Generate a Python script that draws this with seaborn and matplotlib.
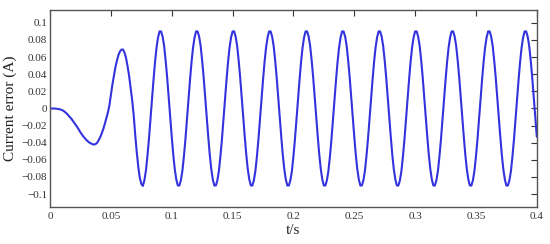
import numpy as np
import pandas as pd
import matplotlib
matplotlib.use("Agg")
import matplotlib.pyplot as plt
import seaborn as sns

# time step of the readings (s)
dt = 0.00125

# transient part, t = 0 ... 0.07625
transient = [0, 0, 0, -0.0001, -0.0002, -0.0005, -0.0008, -0.0013,
             -0.002, -0.003, -0.0045, -0.006, -0.008, -0.010, -0.012, -0.0145,
             -0.017, -0.0195, -0.022, -0.025, -0.028, -0.0305, -0.033, -0.035,
             -0.037, -0.0387, -0.040, -0.041, -0.0418, -0.0422, -0.0415, -0.040,
             -0.037, -0.0335, -0.029, -0.024, -0.018, -0.0115, -0.005, 0.0035,
             0.0157, 0.028, 0.038, 0.0485, 0.056, 0.0627, 0.0667, 0.0688,
             0.0688, 0.065, 0.0585, 0.049, 0.0376, 0.024, 0.0096, -0.008,
             -0.031, -0.051, -0.068, -0.081, -0.088, -0.0905]

# steady oscillation, t = 0.0775 ... 0.4 (one row per 0.03 s period)
steady = [
    -0.084, -0.073, -0.056, -0.036, -0.013, 0.010, 0.033, 0.054, 0.071, 0.083, 0.090, 0.090,
    0.084, 0.073, 0.056, 0.036, 0.013, -0.010, -0.033, -0.054, -0.071, -0.083, -0.090, -0.090,
    -0.084, -0.073, -0.056, -0.036, -0.013, 0.010, 0.033, 0.054, 0.071, 0.083, 0.090, 0.090,
    0.084, 0.073, 0.056, 0.036, 0.013, -0.010, -0.033, -0.054, -0.071, -0.083, -0.090, -0.090,
    -0.084, -0.073, -0.056, -0.036, -0.013, 0.010, 0.033, 0.054, 0.071, 0.083, 0.090, 0.090,
    0.084, 0.073, 0.056, 0.036, 0.013, -0.010, -0.033, -0.054, -0.071, -0.083, -0.090, -0.090,
    -0.084, -0.073, -0.056, -0.036, -0.013, 0.010, 0.033, 0.054, 0.071, 0.083, 0.090, 0.090,
    0.084, 0.073, 0.056, 0.036, 0.013, -0.010, -0.033, -0.054, -0.071, -0.083, -0.090, -0.090,
    -0.084, -0.073, -0.056, -0.036, -0.013, 0.010, 0.033, 0.054, 0.071, 0.083, 0.090, 0.090,
    0.084, 0.073, 0.056, 0.036, 0.013, -0.010, -0.033, -0.054, -0.071, -0.083, -0.090, -0.090,
    -0.084, -0.073, -0.056, -0.036, -0.013, 0.010, 0.033, 0.054, 0.071, 0.083, 0.090, 0.090,
    0.084, 0.073, 0.056, 0.036, 0.013, -0.010, -0.033, -0.054, -0.071, -0.083, -0.090, -0.090,
    -0.084, -0.073, -0.056, -0.036, -0.013, 0.010, 0.033, 0.054, 0.071, 0.083, 0.090, 0.090,
    0.084, 0.073, 0.056, 0.036, 0.013, -0.010, -0.033, -0.054, -0.071, -0.083, -0.090, -0.090,
    -0.084, -0.073, -0.056, -0.036, -0.013, 0.010, 0.033, 0.054, 0.071, 0.083, 0.090, 0.090,
    0.084, 0.073, 0.056, 0.036, 0.013, -0.010, -0.033, -0.054, -0.071, -0.083, -0.090, -0.090,
    -0.084, -0.073, -0.056, -0.036, -0.013, 0.010, 0.033, 0.054, 0.071, 0.083, 0.090, 0.090,
    0.084, 0.073, 0.056, 0.036, 0.013, -0.010, -0.033, -0.054, -0.071, -0.083, -0.090, -0.090,
    -0.084, -0.073, -0.056, -0.036, -0.013, 0.010, 0.033, 0.054, 0.071, 0.083, 0.090, 0.090,
    0.084, 0.073, 0.056, 0.036, 0.013, -0.010, -0.033, -0.054, -0.071, -0.083, -0.090, -0.090,
    -0.084, -0.073, -0.056, -0.036, -0.013, 0.010, 0.033, 0.054, 0.071, 0.083, 0.090, 0.090,
    0.084, 0.073, 0.056, 0.036, 0.013, -0.010, -0.033]

x_ticks = [0, 0.05, 0.1, 0.15, 0.2, 0.25, 0.3, 0.35, 0.4]
x_labels = ["0", "0.05", "0.1", "0.15", "0.2", "0.25", "0.3", "0.35", "0.4"]
y_ticks = [0.1, 0.08, 0.06, 0.04, 0.02, 0, -0.02, -0.04, -0.06, -0.08, -0.1]
y_labels = ["0.1", "0.08", "0.06", "0.04", "0.02", "0", "\u22120.02", "\u22120.04",
            "\u22120.06", "\u22120.08", "\u22120.1"]

err = transient + steady
df = pd.DataFrame({"t": np.arange(len(err)) * dt, "err": err})

sns.set_style("white")
plt.rcParams["font.family"] = ["Liberation Serif", "DejaVu Serif"]

fig = plt.figure(figsize=(5.5, 2.44), dpi=100)
ax = fig.add_axes([0.091, 0.152, 0.885, 0.807])
sns.lineplot(data=df, x="t", y="err", color="#3333dd", linewidth=1.5, ax=ax)

ax.set_xlim(0, 0.4)
ax.set_ylim(-0.115, 0.115)
ax.set_xticks(x_ticks)
ax.set_xticklabels(x_labels)
ax.set_yticks(y_ticks)
ax.set_yticklabels(y_labels)
ax.tick_params(direction="in", length=4, width=0.8, colors="#333333",
               labelsize=8, top=True, right=True, labeltop=False, labelright=False, pad=4)
ax.tick_params(axis="y", pad=2)
for s in ax.spines.values():
    s.set_color("#555555")
    s.set_linewidth(1.0)
ax.set_xlabel("t/s", fontsize=11, color="#222222", labelpad=2)
ax.set_ylabel("Current error (A)", fontsize=11, color="#222222", labelpad=3)

fig.savefig("out.png", dpi=100)
